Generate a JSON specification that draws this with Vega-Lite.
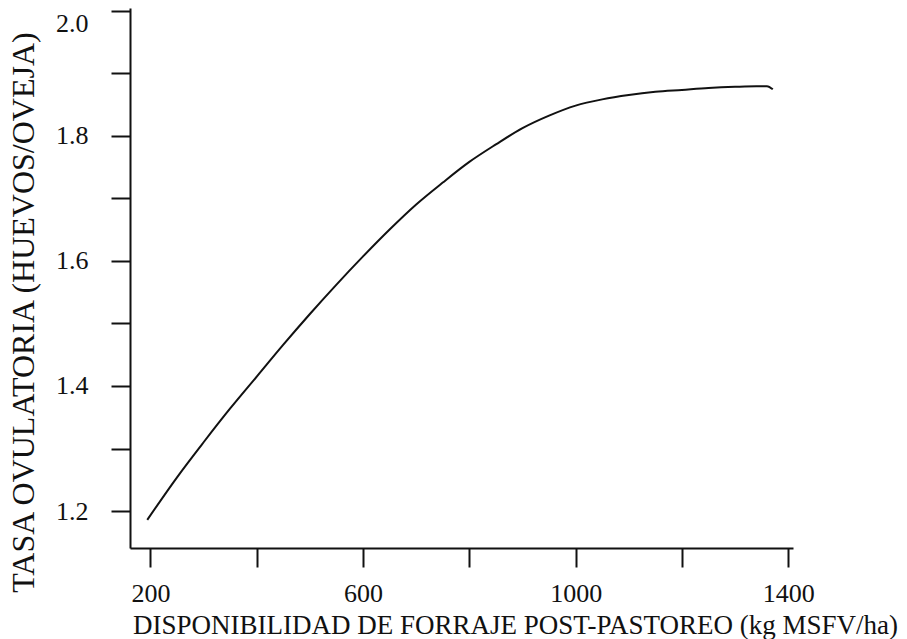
{
  "$schema": "https://vega.github.io/schema/vega-lite/v6.json",
  "width": 663,
  "height": 540,
  "autosize": "none",
  "padding": {"left": 130, "top": 8, "right": 114, "bottom": 91},
  "background": "white",
  "config": {
    "view": {"stroke": null},
    "font": "Liberation Serif",
    "axis": {
      "grid": false,
      "domainColor": "#111",
      "domainWidth": 2,
      "tickColor": "#111",
      "tickWidth": 2,
      "tickSize": 19,
      "labelFont": "Liberation Serif",
      "titleFont": "Liberation Serif",
      "labelColor": "#111",
      "titleColor": "#111",
      "labelFontSize": 26,
      "titleFontSize": 26,
      "titleFontWeight": "normal"
    }
  },
  "data": {
    "values": [
      {"x": 194, "y": 1.186},
      {"x": 250, "y": 1.254},
      {"x": 300, "y": 1.310},
      {"x": 350, "y": 1.364},
      {"x": 400, "y": 1.415},
      {"x": 450, "y": 1.466},
      {"x": 500, "y": 1.515},
      {"x": 550, "y": 1.562},
      {"x": 600, "y": 1.607},
      {"x": 650, "y": 1.650},
      {"x": 700, "y": 1.690},
      {"x": 750, "y": 1.725},
      {"x": 800, "y": 1.758},
      {"x": 850, "y": 1.786},
      {"x": 900, "y": 1.812},
      {"x": 950, "y": 1.832},
      {"x": 1000, "y": 1.848},
      {"x": 1050, "y": 1.858},
      {"x": 1100, "y": 1.865},
      {"x": 1150, "y": 1.870},
      {"x": 1200, "y": 1.873},
      {"x": 1250, "y": 1.876},
      {"x": 1300, "y": 1.878},
      {"x": 1340, "y": 1.879},
      {"x": 1360, "y": 1.879},
      {"x": 1371, "y": 1.874}
    ]
  },
  "mark": {"type": "line", "interpolate": "monotone", "color": "#111", "strokeWidth": 2},
  "encoding": {
    "x": {
      "field": "x",
      "type": "quantitative",
      "scale": {"domain": [161.5, 1409], "nice": false, "zero": false},
      "axis": {
        "values": [200, 400, 600, 800, 1000, 1200, 1400],
        "labelExpr": "datum.value % 400 == 200 ? datum.label : ''",
        "format": "d",
        "labelBaseline": "alphabetic",
        "labelPadding": 34,
        "title": "DISPONIBILIDAD DE FORRAJE POST-PASTOREO (kg MSFV/ha)",
        "titleFontSize": 27,
        "titleX": 385,
        "titleY": 85,
        "titleBaseline": "alphabetic",
        "titleAlign": "center"
      }
    },
    "y": {
      "field": "y",
      "type": "quantitative",
      "scale": {"domain": [1.141, 2.004], "nice": false, "zero": false},
      "axis": {
        "values": [1.2, 1.3, 1.4, 1.5, 1.6, 1.7, 1.8, 1.9, 2.0],
        "labelExpr": "round(datum.value * 10) % 2 == 0 ? format(datum.value, '.1f') : ''",
        "labelPadding": 23,
        "labelFlush": 4,
        "title": "TASA OVULATORIA (HUEVOS/OVEJA)",
        "titleFontSize": 32,
        "titleX": -97,
        "titleY": 304,
        "titleBaseline": "alphabetic",
        "titleAlign": "center",
        "titleAngle": -90
      }
    }
  }
}
